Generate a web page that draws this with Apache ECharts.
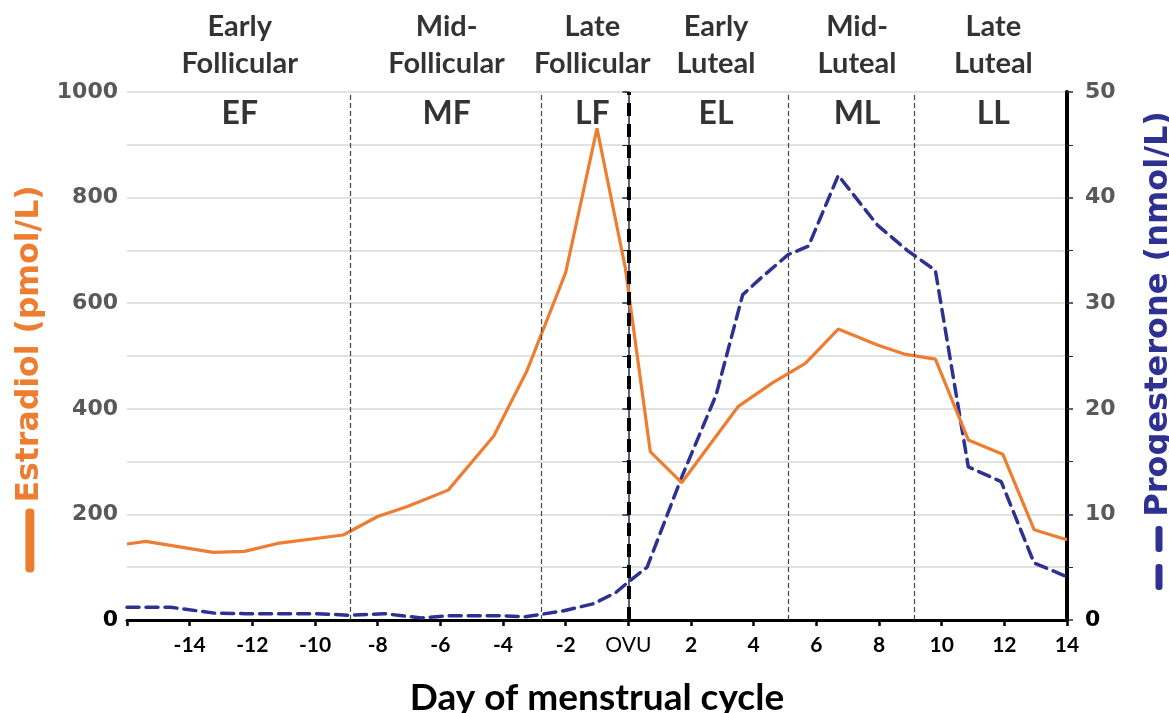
<!DOCTYPE html>
<html>
<head>
<meta charset="utf-8">
<script src="https://cdn.jsdelivr.net/npm/echarts@6/dist/echarts.min.js"></script>
<style>
html,body{margin:0;padding:0;background:#fff;}
#chart{width:1169px;height:713px;}
</style>
</head>
<body>
<div id="chart"></div>
<script>
// ---- data ----
const estradiolDays = [-16, -15.4, -13.25, -12.25, -11.2, -9.1, -8.0, -7.05, -5.75, -4.3, -3.25, -2.0, -1.0, -0.1, 0.7, 1.7, 3.5, 4.6, 5.65, 6.7, 7.95, 8.85, 9.8, 10.85, 11.95, 12.95, 14];
const estradiol     = [144, 149, 128, 130, 145, 161, 196, 215, 246, 348, 470, 658, 931, 668, 319, 260, 404, 449, 486, 551, 521, 503, 494, 341, 314, 171, 152];

const progesteroneDays = [-16, -14.6, -13.2, -12.2, -10.0, -8.9, -7.8, -6.6, -5.8, -4.0, -3.3, -2.1, -1.1, -0.4, 0, 0.6, 1.7, 2.8, 3.65, 4.2, 5.1, 5.75, 6.7, 7.95, 8.9, 9.8, 10.85, 11.9, 12.95, 14];
const progesterone     = [1.2, 1.2, 0.65, 0.6, 0.6, 0.45, 0.6, 0.2, 0.4, 0.4, 0.3, 0.85, 1.55, 2.6, 3.6, 5.0, 13.5, 21.3, 30.8, 32.3, 34.6, 35.4, 42.1, 37.4, 35.0, 33.1, 14.5, 13.1, 5.4, 4.1];

const phaseAbbr = ['EF', 'MF', 'LF', 'EL', 'ML', 'LL'];
const phaseNames = ['Early\nFollicular', 'Mid-\nFollicular', 'Late\nFollicular', 'Early\nLuteal', 'Mid-\nLuteal', 'Late\nLuteal'];
const phaseLabelDays = [-12.4, -5.8, -1.15, 2.8, 7.3, 11.65];
const phaseBoundaryDays = [-8.87, -2.78, 5.1, 9.13];
const ovulationDay = 0;
const ovulationLabel = 'OVU';

const xTitle = 'Day of menstrual cycle';
const leftTitle = 'Estradiol (pmol/L)';
const rightTitle = 'Progesterone (nmol/L)';

// ---- chart ----
const FONT = 'Lato';
const WIDEFONT = 'DejaVu Sans';
const ORANGE = '#ED7D31';
const BLUE = '#2E3192';
const GRAYTXT = '#595959';

const chart = echarts.init(document.getElementById('chart'), null, {renderer: 'canvas'});

const estData = estradiolDays.map((d, i) => [d, estradiol[i]]);
const proData = progesteroneDays.map((d, i) => [d, progesterone[i]]);
const nameData = phaseLabelDays.map((d, i) => ({value: [d, 1000], label: {formatter: phaseNames[i]}}));
const abbrData = phaseLabelDays.map((d, i) => ({value: [d, 1000], label: {formatter: phaseAbbr[i]}}));

const option = {
  backgroundColor: '#ffffff',
  animation: false,
  textStyle: {fontFamily: FONT},
  grid: {left: 127, right: 102, top: 92, bottom: 93, containLabel: false, outerBoundsMode: 'none'},
  xAxis: {
    type: 'value', min: -16, max: 14, interval: 2,
    axisLine: {show: true, onZero: false, lineStyle: {color: '#000', width: 3}},
    axisTick: {show: true, inside: false, length: 6, lineStyle: {color: '#000', width: 2.5}},
    splitLine: {show: false},
    axisLabel: {
      margin: 15, fontFamily: FONT, fontSize: 21, fontWeight: 'bold', color: '#000',
      formatter: v => v === -16 ? '' : (v === ovulationDay ? '{o|' + ovulationLabel + '}' : String(v)),
      rich: {o: {fontFamily: FONT, fontSize: 21, fontWeight: 'normal', color: '#000'}}
    },
    name: xTitle, nameLocation: 'middle', nameGap: 60,
    nameTextStyle: {fontFamily: FONT, fontSize: 37, fontWeight: 'bold', color: '#000'}
  },
  yAxis: [
    {
      type: 'value', min: 0, max: 1000, interval: 200, position: 'left',
      axisLine: {show: true, lineStyle: {color: '#1F2A5C', width: 1.5}},
      axisTick: {show: true, length: 6, lineStyle: {color: '#1F2A5C', width: 1.5}},
      minorTick: {show: true, splitNumber: 2, length: 6, lineStyle: {color: '#1F2A5C', width: 1}},
      splitLine: {show: true, lineStyle: {color: '#D9D9D9', width: 1.5}},
      minorSplitLine: {show: true, lineStyle: {color: '#D9D9D9', width: 1.5}},
      axisLabel: {
        margin: 9, fontFamily: WIDEFONT, fontSize: 22, fontWeight: 'bold',
        formatter: v => String(v),
        color: v => (Number(v) === 0 ? '#000' : GRAYTXT)
      },
      name: '{bar|}  {t|' + leftTitle + '}', nameLocation: 'middle', nameGap: 80, nameRotate: 90,
      nameTextStyle: {
        rich: {
          t: {fontFamily: WIDEFONT, fontSize: 31.5, fontWeight: 'bold', color: ORANGE},
          bar: {width: 64, height: 9, backgroundColor: ORANGE, borderRadius: 4}
        },
        padding: [0, 46, 0, 0]
      }
    },
    {
      type: 'value', min: 0, max: 50, interval: 10, position: 'right',
      axisLine: {show: true, lineStyle: {color: '#000', width: 4}},
      axisTick: {show: true, length: 6, lineStyle: {color: '#1F2A5C', width: 1.5}},
      minorTick: {show: true, splitNumber: 2, length: 6, lineStyle: {color: '#1F2A5C', width: 1}},
      splitLine: {show: false},
      axisLabel: {
        margin: 18, fontFamily: WIDEFONT, fontSize: 22, fontWeight: 'bold',
        formatter: v => String(v),
        color: v => (Number(v) === 0 ? '#000' : GRAYTXT)
      },
      name: '{d|}{g|}{d|}   {t|' + rightTitle + '}', nameLocation: 'middle', nameGap: 76, nameRotate: 90,
      nameTextStyle: {
        rich: {
          t: {fontFamily: WIDEFONT, fontSize: 32, fontWeight: 'bold', color: BLUE},
          d: {width: 26, height: 7, backgroundColor: BLUE, borderRadius: 3},
          g: {width: 12, height: 7}
        },
        padding: [0, 0, 0, 11]
      }
    }
  ],
  series: [
    {
      name: 'boundaries', type: 'line', data: [], silent: true,
      markLine: {
        silent: true, symbol: 'none', animation: false,
        label: {show: false},
        data: phaseBoundaryDays.map(d => ({xAxis: d, lineStyle: {color: '#444', width: 1.2, type: [5, 3]}}))
          .concat([{xAxis: ovulationDay, lineStyle: {color: '#000', width: 4, type: [13, 8]}}])
      }
    },
    {
      name: 'Progesterone', type: 'line', yAxisIndex: 1, data: proData,
      showSymbol: false, symbol: 'none', smooth: false,
      lineStyle: {color: BLUE, width: 3.5, type: [12, 7], cap: 'round'}, z: 3
    },
    {
      name: 'Estradiol', type: 'line', yAxisIndex: 0, data: estData,
      showSymbol: false, symbol: 'none', smooth: false,
      lineStyle: {color: ORANGE, width: 3.2}, z: 4
    },
    {
      name: 'phaseNames', type: 'scatter', data: nameData, symbolSize: 1, silent: true,
      itemStyle: {color: 'rgba(0,0,0,0)'},
      label: {show: true, position: 'top', distance: 9, fontFamily: FONT, fontSize: 29, fontWeight: 'bold',
        color: '#000', lineHeight: 37, align: 'center'}
    },
    {
      name: 'phaseAbbr', type: 'scatter', data: abbrData, symbolSize: 1, silent: true,
      itemStyle: {color: 'rgba(0,0,0,0)'},
      label: {show: true, position: 'bottom', distance: 5, fontFamily: FONT, fontSize: 32, fontWeight: 'bold',
        color: '#000', lineHeight: 32, align: 'center'}
    }
  ]
};
chart.setOption(option);
</script>
</body>
</html>
